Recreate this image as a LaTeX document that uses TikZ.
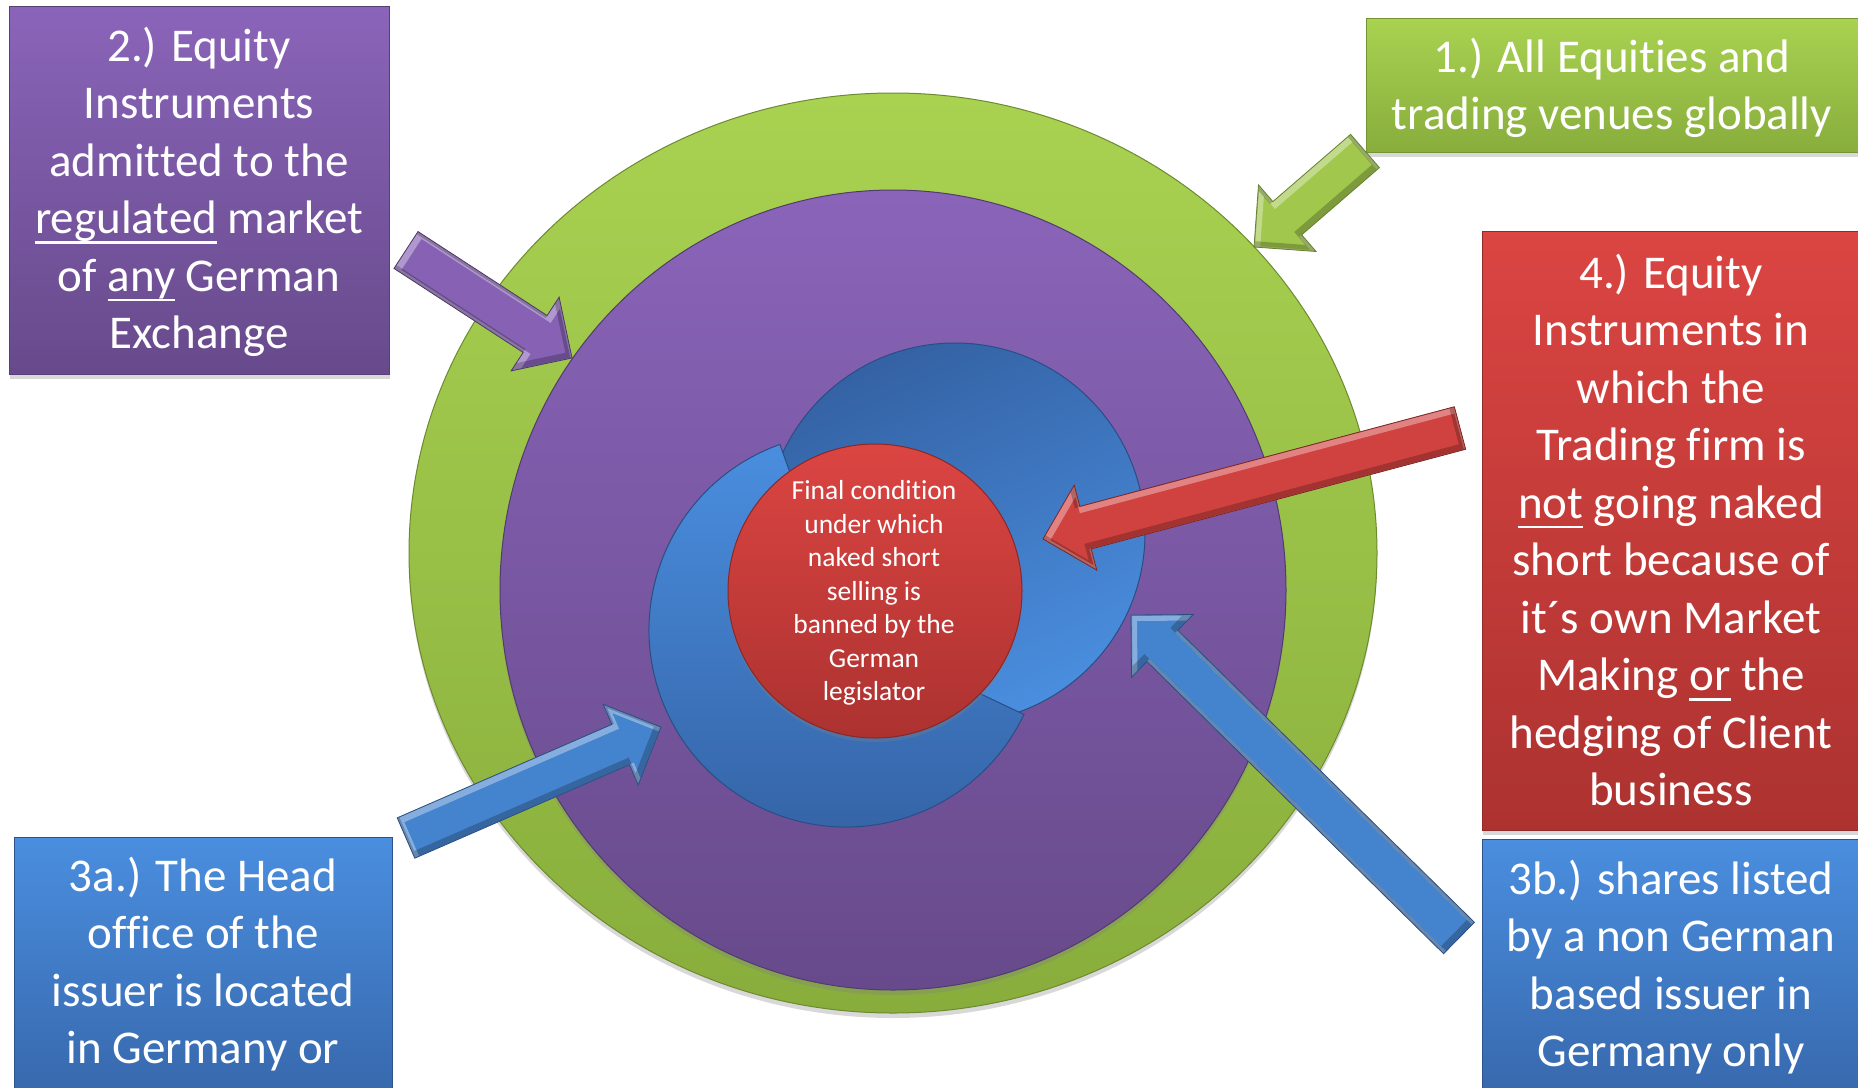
\documentclass[tikz,border=0pt]{standalone}
\usepackage{fontspec}
\setmainfont{Carlito}[Ligatures=CommonOff]
\usetikzlibrary{calc,shadows}
\definecolor{grnT}{HTML}{A9D251}
\definecolor{grnB}{HTML}{88AD3C}
\definecolor{purT}{HTML}{8A64B9}
\definecolor{purB}{HTML}{674A8B}
\definecolor{redT}{HTML}{DB4542}
\definecolor{redB}{HTML}{AC3230}
\definecolor{bluL}{HTML}{4A8EDF}
\definecolor{bluD}{HTML}{3462A4}
\newcommand\uln[1]{\setbox0\hbox{#1}\rlap{\rule[-0.21em]{\wd0}{0.055em}}\box0\relax}
% #1 tail, #2 tip, #3 fill colour, #4 outline colour
\newcommand\blockarrow[4]{%
  \coordinate (#1base) at ($(#2)!44pt!(#1)$);
  \coordinate (#1a) at ($(#1)!22pt!90:(#2)$);
  \coordinate (#1b) at ($(#1base)!22pt!90:(#2)$);
  \coordinate (#1c) at ($(#1base)!44pt!90:(#2)$);
  \coordinate (#1d) at ($(#1base)!44pt!-90:(#2)$);
  \coordinate (#1e) at ($(#1base)!22pt!-90:(#2)$);
  \coordinate (#1f) at ($(#1)!22pt!-90:(#2)$);
  \fill[#3] (#1a) -- (#1b) -- (#1c) -- (#2) -- (#1d) -- (#1e) -- (#1f) -- cycle;
  \begin{scope}
    \clip (#1a) -- (#1b) -- (#1c) -- (#2) -- (#1d) -- (#1e) -- (#1f) -- cycle;
    \draw[white, opacity=0.35, line width=7pt, line join=miter, transform canvas={shift={(2.5pt,-2.5pt)}}]
      (#1a) -- (#1b) -- (#1c) -- (#2) -- (#1d) -- (#1e) -- (#1f) -- cycle;
    \draw[black, opacity=0.22, line width=7pt, line join=miter, transform canvas={shift={(-2.5pt,2.5pt)}}]
      (#1a) -- (#1b) -- (#1c) -- (#2) -- (#1d) -- (#1e) -- (#1f) -- cycle;
  \end{scope}
  \draw[#4, line width=0.8pt, line join=miter] (#1a) -- (#1b) -- (#1c) -- (#2) -- (#1d) -- (#1e) -- (#1f) -- cycle;}
\begin{document}
\begin{tikzpicture}[x=1pt,y=-1pt,
  boxbase/.style={anchor=north west, inner sep=0pt, line width=1pt,
    drop shadow={opacity=0.3,shadow xshift=0pt,shadow yshift=-4pt}},
  gbox/.style={boxbase, top color=grnT, bottom color=grnB, draw=grnB!85!black},
  pbox/.style={boxbase, top color=purT, bottom color=purB, draw=purB!85!black},
  rbox/.style={boxbase, top color=redT, bottom color=redB, draw=redB!85!black},
  bbox/.style={boxbase, top color=bluL, bottom color=bluD, draw=bluD!85!black},
  txt/.style={text=white, align=center, inner sep=0pt, font=\fontsize{47}{57.5}\selectfont},
  ctxt/.style={text=white, align=center, inner sep=0pt, font=\fontsize{27.5}{33.5}\selectfont}]
\useasboundingbox (0,0) rectangle (1858,1087);
\fill[white] (0,0) rectangle (1858,1087);
\clip (0,0) rectangle (1858,1087);
% rings
\path[top color=grnT, bottom color=grnB, draw=grnB!80!black, line width=1pt,
  drop shadow={opacity=0.3,shadow xshift=0pt,shadow yshift=-5pt}] (893,553) ellipse [x radius=484, y radius=460];
\path[top color=purT, bottom color=purB, draw=purB!80!black, line width=1pt,
  drop shadow={opacity=0.3,shadow xshift=0pt,shadow yshift=-5pt}] (893,590) ellipse [x radius=393, y radius=400];
\path[top color=bluD, bottom color=bluL, shading angle=25, draw=bluD!80!black, line width=1pt] (955,533) circle [radius=190];
\path[top color=bluL, bottom color=bluD, draw=bluD!80!black, line width=1pt]
  (846,630) -- ++(-109.6:197) arc [start angle=-109.6, end angle=-334.6, radius=197] -- cycle;
\path[top color=redT, bottom color=redB, draw=redB!80!black, line width=1pt,
  drop shadow={opacity=0.3,shadow xshift=0pt,shadow yshift=-4pt}] (875,591) circle [radius=147];
\node[ctxt] (core) at (874,593) {Final condition\\under which\\naked short\\selling is\\banned by the\\German\\legislator};
% boxes
\node[pbox, minimum width=380, minimum height=368] (b2) at (9,6) {};
\node[gbox, minimum width=500, minimum height=134] (b1) at (1366,18) {};
\node[rbox, minimum width=390, minimum height=599] (b4) at (1482,231) {};
\node[bbox, minimum width=390, minimum height=300] (b3b) at (1482,839) {};
\node[bbox, minimum width=378, minimum height=300] (b3a) at (14,837) {};
\node[txt] (t2) at (199,192) {2.) Equity\\Instruments\\admitted to the\\\uln{regulated} market\\of \uln{any} German\\Exchange};
\node[txt] (t1) at (1612,88) {1.) All Equities and\\trading venues globally};
\node[txt] (t4) at (1671,530) {4.) Equity\\Instruments in\\which the\\Trading firm is\\\uln{not} going naked\\short because of\\it´s own Market\\Making \uln{or} the\\hedging of Client\\business};
\node[txt] (t3b) at (1671,967) {3b.) shares listed\\by a non German\\based issuer in\\Germany only};
\node[txt] (t3a) at (203,964) {3a.) The Head\\office of the\\issuer is located\\in Germany or};
% arrows
\coordinate (gT) at (1365,151); \coordinate (gH) at (1254,247);
\coordinate (pT) at (406,250);  \coordinate (pH) at (572,358);
\coordinate (rT) at (1460,428); \coordinate (rH) at (1043,539);
\coordinate (aT) at (406,838);  \coordinate (aH) at (661,727);
\coordinate (bT) at (1459,938); \coordinate (bH) at (1131,615);
\blockarrow{gT}{gH}{grnT!95!black}{grnB!75!black}
\blockarrow{pT}{pH}{purT!97!black}{purB!75!black}
\blockarrow{rT}{rH}{redT!95!black}{redB!75!black}
\blockarrow{aT}{aH}{bluL!92!black}{bluD!80!black}
\blockarrow{bT}{bH}{bluL!92!black}{bluD!80!black}
\end{tikzpicture}
\end{document}
